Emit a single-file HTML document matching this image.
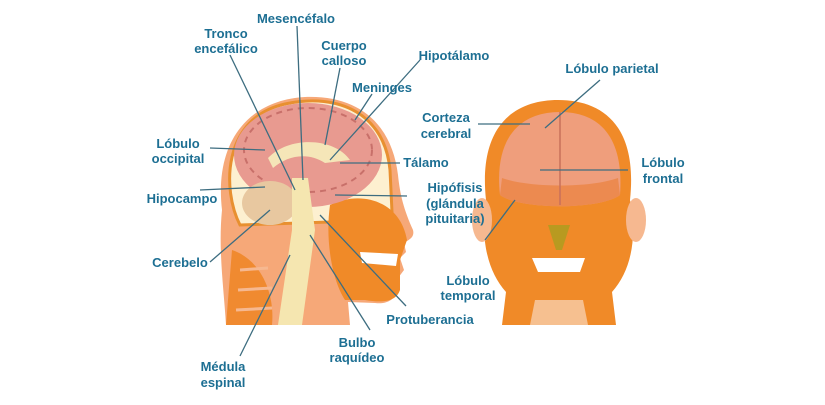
<!DOCTYPE html>
<html><head><meta charset="utf-8"><style>
body{margin:0;background:#fff;width:825px;height:400px;overflow:hidden}
svg text{font-family:"Liberation Sans",sans-serif;font-weight:bold;font-size:13px;fill:#1d6f93}
</style></head><body>
<svg width="825" height="400" viewBox="0 0 825 400">
<!-- LEFT HEAD -->
<path d="M226,325 C224,290 218,250 222,210 C214,140 250,100 305,97 C360,95 392,125 398,175 C400,195 404,210 413,230 C415,238 408,240 404,243 L406,252 L400,258 L404,270 L398,278 C400,295 392,305 375,303 L348,302 L350,325 Z" fill="#f6a878"/>
<path d="M240,225 C222,190 222,118 285,104 C340,92 385,115 390,170 L392,212 L330,222 Z" fill="#fdf0d0" stroke="#e89030" stroke-width="3"/>
<path d="M330,205 C360,190 400,200 407,240 L400,260 L400,290 C396,302 382,303 365,300 L345,300 C332,280 325,240 330,205 Z" fill="#f08a28"/>
<path d="M360,252 L398,254 L396,266 L362,263 Z" fill="#fff"/>
<ellipse cx="308" cy="155" rx="74" ry="52" fill="#e89a90"/>
<ellipse cx="308" cy="150" rx="64" ry="42" fill="none" stroke="#c8706a" stroke-width="2" stroke-dasharray="6 5"/>
<path d="M268,158 C290,135 335,138 350,160 L325,163 C308,152 288,155 273,168 Z" fill="#f5e6b8"/>
<ellipse cx="270" cy="203" rx="28" ry="22" fill="#e8c8a0"/>
<path d="M292,178 L308,178 L315,230 L302,325 L278,325 L292,230 Z" fill="#f5e6b0"/>
<path d="M232,250 C262,260 275,295 272,325 L226,325 Z" fill="#f08a30"/>
<g stroke="#f6b890" stroke-width="3"><line x1="240" y1="270" x2="268" y2="268"/><line x1="238" y1="290" x2="272" y2="288"/><line x1="236" y1="310" x2="272" y2="308"/></g>
<!-- RIGHT HEAD -->
<path d="M502,325 L506,292 C488,272 480,240 486,200 C478,125 515,100 558,100 C602,100 638,125 630,200 C638,240 630,272 612,292 L616,325 Z" fill="#f08a28"/>
<ellipse cx="482" cy="220" rx="10" ry="22" fill="#f6b890"/>
<ellipse cx="636" cy="220" rx="10" ry="22" fill="#f6b890"/>
<path d="M500,195 C494,140 518,112 560,112 C602,112 624,140 620,195 C600,210 520,210 500,195 Z" fill="#ef9e7c"/>
<path d="M502,178 C530,188 590,188 618,178 L620,195 C600,210 520,210 500,195 Z" fill="#ec8a50"/>
<line x1="560" y1="112" x2="560" y2="205" stroke="#c8705a" stroke-width="1.5"/>
<path d="M548,225 L570,225 L562,250 L556,250 Z" fill="#b89a20"/>
<path d="M532,258 L585,258 L580,272 L538,272 Z" fill="#fff"/>
<path d="M530,325 L535,300 L583,300 L588,325 Z" fill="#f6c090"/>
<!-- lines -->
<g stroke="#3d6d80" stroke-width="1.3" fill="none">
<line x1="297" y1="26" x2="303" y2="180"/>
<line x1="230" y1="55" x2="295" y2="190"/>
<line x1="340" y1="68" x2="325" y2="145"/>
<line x1="420" y1="60" x2="330" y2="160"/>
<line x1="372" y1="94" x2="355" y2="120"/>
<line x1="210" y1="148" x2="265" y2="150"/>
<line x1="400" y1="163" x2="340" y2="163"/>
<line x1="200" y1="190" x2="265" y2="187"/>
<line x1="210" y1="262" x2="270" y2="210"/>
<line x1="407" y1="196" x2="335" y2="195"/>
<line x1="406" y1="306" x2="320" y2="215"/>
<line x1="370" y1="330" x2="310" y2="235"/>
<line x1="240" y1="356" x2="290" y2="255"/>
<line x1="478" y1="124" x2="530" y2="124"/>
<line x1="600" y1="80" x2="545" y2="128"/>
<line x1="628" y1="170" x2="540" y2="170"/>
<line x1="485" y1="240" x2="515" y2="200"/>
</g>
<!-- labels -->
<g text-anchor="middle">
<text x="296" y="23">Mesencéfalo</text>
<text x="226" y="38">Tronco</text><text x="226" y="53">encefálico</text>
<text x="344" y="50">Cuerpo</text><text x="344" y="65">calloso</text>
<text x="454" y="60">Hipotálamo</text>
<text x="382" y="92">Meninges</text>
<text x="612" y="73">Lóbulo parietal</text>
<text x="446" y="122">Corteza</text><text x="446" y="138">cerebral</text>
<text x="178" y="148">Lóbulo</text><text x="178" y="163">occipital</text>
<text x="426" y="167">Tálamo</text>
<text x="663" y="167">Lóbulo</text><text x="663" y="183">frontal</text>
<text x="455" y="192">Hipófisis</text><text x="455" y="208">(glándula</text><text x="455" y="223">pituitaria)</text>
<text x="182" y="203">Hipocampo</text>
<text x="180" y="267">Cerebelo</text>
<text x="468" y="285">Lóbulo</text><text x="468" y="300">temporal</text>
<text x="430" y="324">Protuberancia</text>
<text x="357" y="347">Bulbo</text><text x="357" y="362">raquídeo</text>
<text x="223" y="371">Médula</text><text x="223" y="387">espinal</text>
</g>
</svg>
</body></html>
